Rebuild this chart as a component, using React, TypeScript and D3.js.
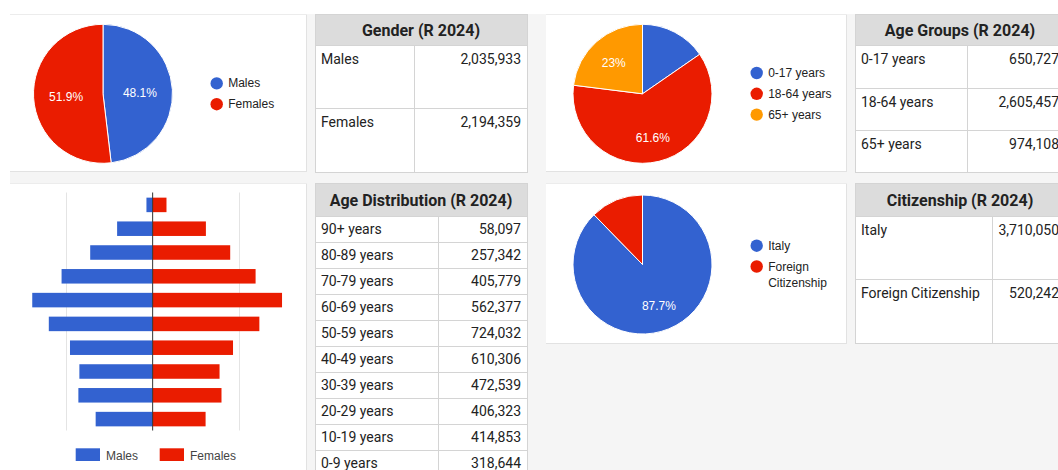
import React from "react";
import * as d3 from "d3";

// ---------- data ----------
const genderLabels = ["Males", "Females"];
const genderValues = [2035933, 2194359];

const ageGroupLabels = ["0-17 years", "18-64 years", "65+ years"];
const ageGroupValues = [650727, 2605457, 974108];

const citizenshipLabels = ["Italy", "Foreign Citizenship"];
const citizenshipValues = [3710050, 520242];

const ageBands = [
  "90+ years", "80-89 years", "70-79 years", "60-69 years", "50-59 years",
  "40-49 years", "30-39 years", "20-29 years", "10-19 years", "0-9 years",
];
const ageTotals = [58097, 257342, 405779, 562377, 724032, 610306, 472539, 406323, 414853, 318644];
const maleByAge = [18000, 103000, 181000, 264000, 349000, 301000, 239600, 212400, 215300, 165200];
const femaleByAge = [40097, 154342, 224779, 298377, 375032, 309306, 232939, 193923, 199553, 153444];
const pyramidTicks = [-250000, 0, 250000];

// ---------- style ----------
const BLUE = "#3362d0";
const RED = "#ea1c00";
const ORANGE = "#ff9900";
const CHART_FONT = "'Liberation Sans', Arial, sans-serif";
const TABLE_FONT = "Roboto, 'Liberation Sans', sans-serif";
const BORDER = "#d4d4d4";
const fmt = d3.format(",");
const pct = d3.format(".1~%");

function Card({ x, y, w, h }: { x: number; y: number; w: number; h: number }) {
  return (
    <g>
      <rect x={x} y={y} width={w} height={h} fill="#fff" />
      <line x1={x + w - 0.5} x2={x + w - 0.5} y1={y} y2={y + h} stroke="#e2e2e2" />
      <line x1={x} x2={x + w} y1={y + h - 0.5} y2={y + h - 0.5} stroke="#e2e2e2" />
      <line x1={x} x2={x + w} y1={y + 0.5} y2={y + 0.5} stroke="#ececec" />
    </g>
  );
}

function Pie({
  cx, cy, r, labels, values, colors, labelR, legendX,
}: {
  cx: number; cy: number; r: number; labels: string[]; values: number[]; colors: string[]; labelR: number; legendX: number;
}) {
  const total = d3.sum(values);
  const arcs = d3.pie<number>().sort(null).value((d) => d)(values);
  const arc = d3.arc<d3.PieArcDatum<number>>().innerRadius(0).outerRadius(r);
  const items = labels.map((l) => (l.length > 14 ? l.split(" ") : [l]));
  const ys: number[] = [];
  let cur = 0;
  items.forEach((lines, i) => {
    if (i > 0) cur += 20.8 + (items[i - 1].length - 1) * 16.8;
    ys.push(cur);
  });
  const last = ys[ys.length - 1] + (items[items.length - 1].length - 1) * 16.8;
  const off = cy - last / 2;
  return (
    <g>
      <g transform={`translate(${cx},${cy})`}>
        {arcs.map((a, i) => (
          <path key={i} d={arc(a) || ""} fill={colors[i]} stroke="#fff" strokeWidth={1} />
        ))}
        {arcs.map((a, i) => {
          const frac = a.value / total;
          if (frac < 0.2) return null;
          const m = (a.startAngle + a.endAngle) / 2;
          return (
            <text key={i} x={labelR * Math.sin(m)} y={-labelR * Math.cos(m) + 1.5} fill="#fff" fontSize={12}
              fontFamily={CHART_FONT} textAnchor="middle" dominantBaseline="central">
              {pct(frac)}
            </text>
          );
        })}
      </g>
      {items.map((lines, i) => (
        <g key={i}>
          <circle cx={legendX} cy={off + ys[i]} r={6.2} fill={colors[i]} />
          {lines.map((t, j) => (
            <text key={j} x={legendX + 11.5} y={off + ys[i] + j * 16.8} fontSize={12} fontFamily={CHART_FONT}
              fill="#222" dominantBaseline="central">{t}</text>
          ))}
        </g>
      ))}
    </g>
  );
}

function Table({
  x, y, w, colW, headerH, rowHs, title, labels, values, textOff,
}: {
  x: number; y: number; w: number; colW: number; headerH: number; rowHs: number[]; title: string; labels: string[]; values: number[]; textOff: number;
}) {
  const tops: number[] = [];
  let c = y + headerH;
  rowHs.forEach((h) => { tops.push(c); c += h; });
  const bottom = c;
  return (
    <g fontFamily={TABLE_FONT}>
      <rect x={x + 0.5} y={y + 0.5} width={w} height={bottom - y} fill="#fff" stroke={BORDER} />
      <rect x={x + 0.5} y={y + 0.5} width={w} height={headerH} fill="#dcdcdc" stroke={BORDER} />
      <text x={x + w / 2} y={y + headerH / 2 + 1} textAnchor="middle" dominantBaseline="central" fontSize={16}
        fontWeight="bold" fill="#222">{title}</text>
      <line x1={x + colW + 0.5} x2={x + colW + 0.5} y1={y + headerH} y2={bottom} stroke={BORDER} />
      {tops.map((t, i) => (
        <g key={i}>
          {i > 0 && <line x1={x} x2={x + w} y1={t + 0.5} y2={t + 0.5} stroke={BORDER} />}
          <text x={x + 6} y={t + textOff} fontSize={14} fill="#222">{labels[i]}</text>
          <text x={x + w - 6} y={t + textOff} fontSize={14} fill="#222" textAnchor="end">{fmt(values[i])}</text>
        </g>
      ))}
    </g>
  );
}

function Pyramid() {
  const x = d3.scaleLinear().domain([-250000, 250000]).range([66.4, 238.9]);
  const y = d3.scaleBand<string>().domain(ageBands).range([193, 431]).paddingInner(0.39).paddingOuter(0.195);
  const top = 192.5, bot = 430.5;
  return (
    <g>
      {pyramidTicks.filter((t) => t !== 0).map((t) => (
        <line key={t} x1={Math.round(x(t)) + 0.5} x2={Math.round(x(t)) + 0.5} y1={top} y2={bot} stroke="#e4e4e4" />
      ))}
      {ageBands.map((b, i) => (
        <g key={b}>
          <rect x={x(-maleByAge[i])} y={y(b)} width={x(0) - x(-maleByAge[i])} height={y.bandwidth()} fill={BLUE} />
          <rect x={x(0)} y={y(b)} width={x(femaleByAge[i]) - x(0)} height={y.bandwidth()} fill={RED} />
        </g>
      ))}
      <line x1={x(0)} x2={x(0)} y1={top} y2={bot} stroke="#333" strokeWidth={1} />
      <rect x={75.7} y={448.3} width={24.3} height={12.7} fill={BLUE} />
      <text x={106} y={455.5} fontSize={12} fontFamily={CHART_FONT} fill="#444" dominantBaseline="central">Males</text>
      <rect x={159.7} y={448.3} width={24.3} height={12.7} fill={RED} />
      <text x={190} y={455.5} fontSize={12} fontFamily={CHART_FONT} fill="#444" dominantBaseline="central">Females</text>
    </g>
  );
}

export default function App() {
  return (
    <svg width={1058} height={470} style={{ position: "absolute", left: 0, top: 0, display: "block", background: "#fff" }}>
      <rect x={10} y={14} width={1048} height={456} fill="#f5f5f5" />
      <Card x={10} y={14} w={297} h={158} />
      <Card x={546} y={14} w={301} h={158} />
      <Card x={10} y={183} w={297} h={300} />
      <Card x={546} y={183} w={301} h={161} />

      <Pie cx={103} cy={93.8} r={69.5} labels={genderLabels} values={genderValues} colors={[BLUE, RED]} labelR={37} legendX={216.7} />
      <Pie cx={642.5} cy={93.8} r={69.5} labels={ageGroupLabels} values={ageGroupValues} colors={[BLUE, RED, ORANGE]} labelR={43.5} legendX={756.7} />
      <Pie cx={642.5} cy={264.5} r={69.5} labels={citizenshipLabels} values={citizenshipValues} colors={[BLUE, RED]} labelR={43.5} legendX={756.7} />

      <Pyramid />

      <Table x={315} y={14} w={212} colW={99} headerH={31} rowHs={[63, 64]} title="Gender (R 2024)" labels={genderLabels} values={genderValues} textOff={19} />
      <Table x={855} y={14} w={210} colW={112} headerH={31} rowHs={[43, 42, 42]} title="Age Groups (R 2024)" labels={ageGroupLabels} values={ageGroupValues} textOff={18.5} />
      <Table x={315} y={183} w={212} colW={123} headerH={33} rowHs={ageBands.map(() => 26)} title="Age Distribution (R 2024)" labels={ageBands} values={ageTotals} textOff={17.5} />
      <Table x={855} y={183} w={210} colW={137} headerH={33} rowHs={[63, 64]} title="Citizenship (R 2024)" labels={citizenshipLabels} values={citizenshipValues} textOff={18.5} />
    </svg>
  );
}
